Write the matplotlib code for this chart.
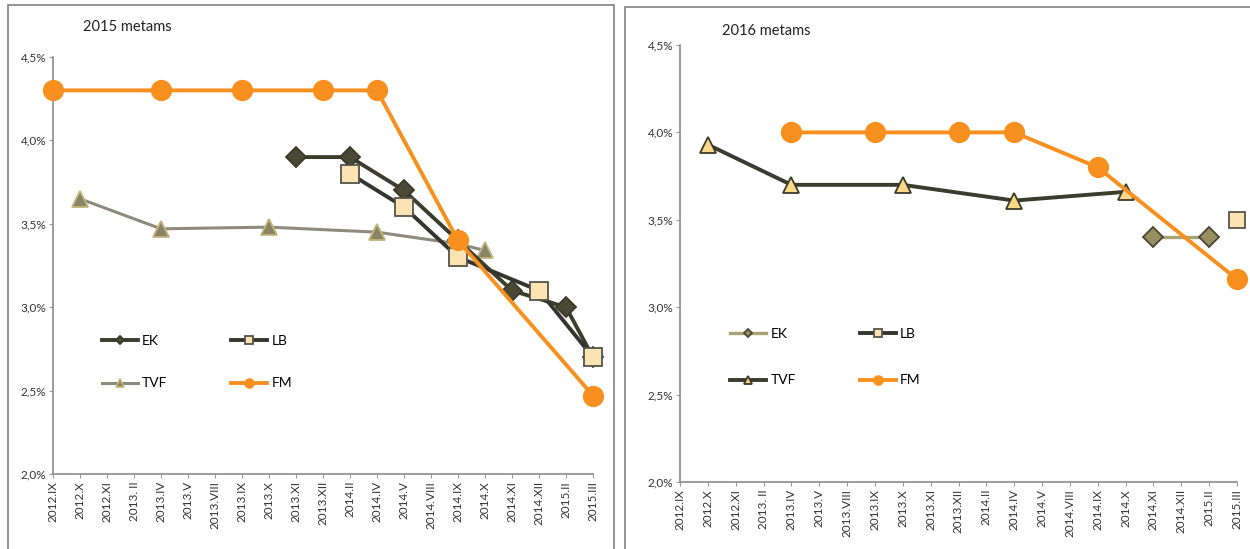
import matplotlib
matplotlib.use("Agg")
import matplotlib.pyplot as plt
from matplotlib.patches import Rectangle

plt.rcParams['font.family'] = ['Lato', 'DejaVu Sans']

# categories shared by both panels
categories = ["2012.IX", "2012.X", "2012.XI", "2013. II", "2013.IV", "2013.V",
              "2013.VIII", "2013.IX", "2013.X", "2013.XI", "2013.XII", "2014.II",
              "2014.IV", "2014.V", "2014.VIII", "2014.IX", "2014.X", "2014.XI",
              "2014.XII", "2015.II", "2015.III"]
N = None

# 2015 metams (percent), None = no forecast in that month
fm_2015 = [4.3, N, N, N, 4.3, N, N, 4.3, N, N, 4.3, N, 4.3, N, N, 3.4, N, N, N, N, 2.47]
ek_2015 = [N, N, N, N, N, N, N, N, N, 3.9, N, 3.9, N, 3.7, N, 3.4, N, 3.1, N, 3.0, 2.7]
lb_2015 = [N, N, N, N, N, N, N, N, N, N, N, 3.8, N, 3.6, N, 3.3, N, N, 3.1, N, 2.7]
tvf_2015 = [N, 3.65, N, N, 3.47, N, N, N, 3.48, N, N, N, 3.45, N, N, 3.38, 3.34, N, N, N, N]

# 2016 metams (percent)
fm_2016 = [N, N, N, N, 4.0, N, N, 4.0, N, N, 4.0, N, 4.0, N, N, 3.8, N, N, N, N, 3.16]
ek_2016 = [N, N, N, N, N, N, N, N, N, N, N, N, N, N, N, N, N, 3.4, N, 3.4, N]
lb_2016 = [N, N, N, N, N, N, N, N, N, N, N, N, N, N, N, N, N, N, N, N, 3.5]
tvf_2016 = [N, 3.93, N, N, 3.7, N, N, N, 3.7, N, N, N, 3.61, N, N, N, 3.66, N, N, N, N]

yticks = [2.0, 2.5, 3.0, 3.5, 4.0, 4.5]
ytick_labels = ["2,0%", "2,5%", "3,0%", "3,5%", "4,0%", "4,5%"]

ORANGE = "#F7901E"


def draw(ax, values, label, color, lw, marker, ms, face, edge, z):
    x = [i for i, v in enumerate(values) if v is not None]
    y = [v for v in values if v is not None]
    line, = ax.plot(x, y, color=color, lw=lw, marker=marker, ms=ms, mfc=face,
                    mec=edge, mew=1.3, label=label, zorder=z, clip_on=False)
    return line


def style_axes(ax):
    ax.set_xlim(0, 20)
    ax.set_ylim(2.0, 4.5)
    ax.set_xticks(range(len(categories)))
    ax.set_xticklabels(categories, rotation=90, fontsize=8.5)
    ax.set_yticks(yticks)
    ax.set_yticklabels(ytick_labels, fontsize=8.5)
    for s in ["top", "right"]:
        ax.spines[s].set_visible(False)
    for s in ["left", "bottom"]:
        ax.spines[s].set_color("#8c8c8c")
        ax.spines[s].set_linewidth(1.2)
    ax.tick_params(axis="both", colors="#9a9a9a", labelcolor="#333333", length=3, pad=2)
    ax.set_facecolor("none")


fig = plt.figure(figsize=(12.5, 5.49), dpi=100)

# panel frames
fig.add_artist(Rectangle((8 / 1250, -0.02), 606 / 1250, 1.02 - 5 / 549, transform=fig.transFigure,
                         fill=False, edgecolor="#8a8a8a", lw=1.3))
fig.add_artist(Rectangle((625 / 1250, -0.02), 0.6, 1.02 - 7 / 549, transform=fig.transFigure,
                         fill=False, edgecolor="#8a8a8a", lw=1.3))

# ---- left: 2015 ----
ax1 = fig.add_axes([53 / 1250, 1 - 474 / 549, 540 / 1250, 417 / 549])
style_axes(ax1)
tvf1 = draw(ax1, tvf_2015, "TVF", "#8E8A7C", 2.2, "^", 12, "#8A8466", "#C2B47E", 3)
ek1 = draw(ax1, ek_2015, "EK", "#3D3D2E", 2.8, "D", 10, "#4A4935", "#3A3A2A", 4)
lb1 = draw(ax1, lb_2015, "LB", "#343430", 2.8, "s", 13, "#FBE3B3", "#55524A", 5)
fm1 = draw(ax1, fm_2015, "FM", ORANGE, 2.8, "o", 14, ORANGE, ORANGE, 6)
ax1.legend(handles=[ek1, tvf1, lb1, fm1], ncol=2, loc="upper left",
           bbox_to_anchor=(0.09, 0.333), frameon=False, fontsize=10,
           markerscale=0.45, handlelength=2.6, handletextpad=0.3,
           columnspacing=4.6, labelspacing=2.18, borderpad=0, borderaxespad=0)
fig.text(83 / 1250, 1 - 27 / 549, "2015 metams", fontsize=10.5, va="center", color="#222222")

# ---- right: 2016 ----
ax2 = fig.add_axes([680 / 1250, 1 - 482 / 549, 557 / 1250, 437 / 549])
style_axes(ax2)
tvf2 = draw(ax2, tvf_2016, "TVF", "#3B3B2E", 2.8, "^", 12, "#F8D98A", "#3D3A2A", 3)
ek2 = draw(ax2, ek_2016, "EK", "#A8A376", 2.4, "D", 10, "#978E62", "#4A4634", 4)
lb2 = draw(ax2, lb_2016, "LB", "#343430", 2.8, "s", 12, "#FBE3B3", "#5A564C", 5)
fm2 = draw(ax2, fm_2016, "FM", ORANGE, 2.8, "o", 14, ORANGE, ORANGE, 6)
ax2.legend(handles=[ek2, tvf2, lb2, fm2], ncol=2, loc="upper left",
           bbox_to_anchor=(0.09, 0.352), frameon=False, fontsize=10,
           markerscale=0.45, handlelength=2.6, handletextpad=0.3,
           columnspacing=4.6, labelspacing=2.47, borderpad=0, borderaxespad=0)
fig.text(722 / 1250, 1 - 31 / 549, "2016 metams", fontsize=10.5, va="center", color="#222222")

fig.savefig("out.png", dpi=100)
